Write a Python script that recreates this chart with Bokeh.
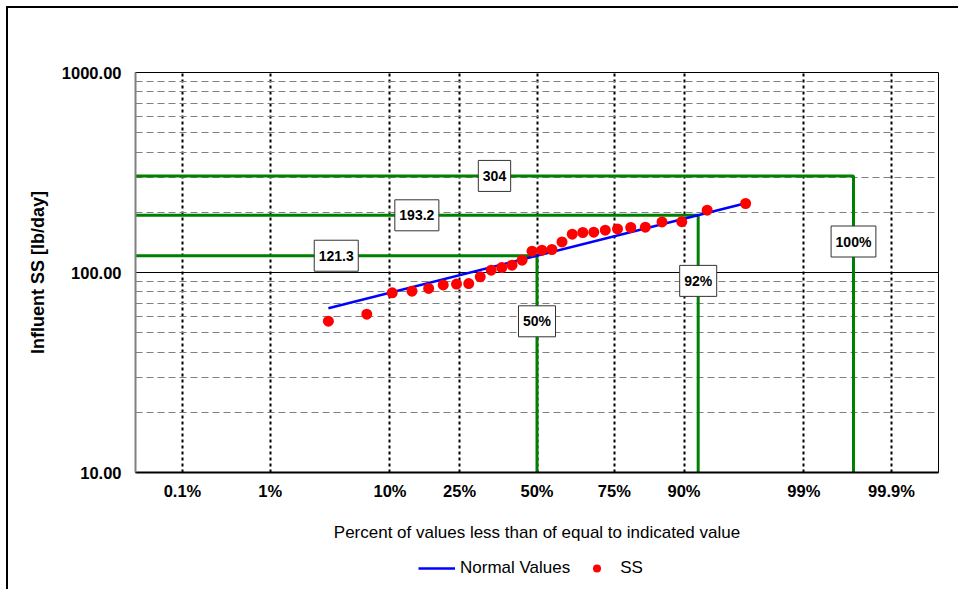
from statistics import NormalDist
from bokeh.plotting import figure
from bokeh.layouts import column
from bokeh.models import Range1d, FixedTicker, Legend, LegendItem, ColumnDataSource
from bokeh.core.properties import value
from bokeh.embed import file_html
from bokeh.resources import INLINE

# ---------------- data ----------------
ss_values = [57.1, 61.9, 79.1, 80.6, 83.2, 86.7, 87.5, 88.0, 95.1, 102.7,
             105.9, 108.8, 115.2, 127.8, 129.3, 130.3, 142.2, 155.5, 158.5, 159.0,
             162.7, 165.2, 167.9, 168.5, 179.1, 179.6, 204.8, 221.3]
normal_values = [66.3, 222.0]          # fitted (log-normal) line at first / last plotting position
tick_pcts = [0.1, 1, 10, 25, 50, 75, 90, 99, 99.9]
tick_labels = ["0.1%", "1%", "10%", "25%", "50%", "75%", "90%", "99%", "99.9%"]
ref_pcts = [50, 92, 99.71]
ref_pct_labels = ["50%", "92%", "100%"]
ref_values = [121.3, 193.2, 304]
y_ticks = [10, 100, 1000]
y_tick_labels = ["10.00", "100.00", "1000.00"]
y_minor = [20, 30, 40, 50, 60, 70, 80, 90, 200, 300, 400, 500, 600, 700, 800, 900]

nd = NormalDist()


def zval(pct):
    return nd.inv_cdf(pct / 100.0)


n = len(ss_values)
ss_z = [nd.inv_cdf((i + 1) / (n + 1)) for i in range(n)]
normal_z = [ss_z[0], ss_z[-1]]

X0, X1 = -3.5, 3.5
Y0, Y1 = 10, 1000

FONT = "Liberation Sans"

p = figure(width=950, height=536,
           x_range=Range1d(X0, X1), y_range=Range1d(Y0, Y1),
           y_axis_type="log", output_backend="svg", toolbar_location=None,
           min_border_left=127, min_border_right=20, min_border_top=64,
           min_border_bottom=72)
p.background_fill_color = "white"
p.border_fill_color = "white"
p.outline_line_color = "black"
p.outline_line_width = 1

# x axis
xt = [zval(v) for v in tick_pcts]
p.xaxis.ticker = FixedTicker(ticks=xt)
p.xaxis.major_label_overrides = {t: lab for t, lab in zip(xt, tick_labels)}
p.xaxis.axis_label = "Percent of values less than of equal to indicated value"
p.xaxis.axis_label_text_font = FONT
p.xaxis.axis_label_text_font_style = "normal"
p.xaxis.axis_label_text_font_size = "17px"
p.xaxis.axis_label_standoff = 20
p.xaxis.major_label_standoff = 9
p.xaxis.axis_line_color = "black"
p.xaxis.axis_line_width = 2

# y axis
p.yaxis.ticker = FixedTicker(ticks=y_ticks, minor_ticks=y_minor)
p.yaxis.major_label_overrides = {t: lab for t, lab in zip(y_ticks, y_tick_labels)}
p.yaxis.axis_label = "Influent SS [lb/day]"
p.yaxis.axis_label_text_font = FONT
p.yaxis.axis_label_text_font_style = "bold"
p.yaxis.axis_label_text_font_size = "18px"
p.yaxis.axis_label_standoff = 11
p.yaxis.major_label_standoff = 14
p.yaxis.axis_line_color = "#808080"
p.yaxis.axis_line_width = 2

for ax in (p.xaxis, p.yaxis):
    ax.major_label_text_font = FONT
    ax.major_label_text_font_style = "bold"
    ax.major_label_text_font_size = "16.5px"
    ax.major_label_text_color = "black"
    ax.axis_label_text_color = "black"
    ax.major_tick_line_color = None
    ax.minor_tick_line_color = None
    ax.major_tick_out = 0
    ax.major_tick_in = 0
    ax.minor_tick_out = 0
    ax.minor_tick_in = 0

# grids
p.xgrid.grid_line_color = "black"
p.xgrid.grid_line_width = 2
p.xgrid.grid_line_dash = "3 3"
p.ygrid.grid_line_color = "black"
p.ygrid.grid_line_width = 1
p.ygrid.minor_grid_line_color = "#808080"
p.ygrid.minor_grid_line_width = 1
p.ygrid.minor_grid_line_dash = "7 4"

# green reference lines
ref_z = [zval(v) for v in ref_pcts]
green_src = ColumnDataSource(dict(
    xs=[[X0, zr, zr] for zr in ref_z],
    ys=[[v, v, Y0] for v in ref_values],
))
p.multi_line(xs="xs", ys="ys", source=green_src, line_color="#008000", line_width=3)

# normal line and points
p.line(normal_z, normal_values, line_color="#0000FF", line_width=2.5)
p.scatter(ss_z, ss_values, marker="circle", size=11,
          fill_color="#FF0000", line_color=None)

# boxed labels (white box + bold text)
CHAR_W = {".": 0.278, "%": 0.889}
LBL_FS = 14


def text_w(s):
    return sum(CHAR_W.get(c, 0.556) for c in s) * LBL_FS


lx, ly, lt = [], [], []
for zr, v, lab in zip(ref_z, ref_values, ref_pct_labels):
    lx.append((X0 + zr) / 2); ly.append(v); lt.append(f"{v:g}")
    lx.append(zr); ly.append(v * 0.47); lt.append(lab)
lbl_src = ColumnDataSource(dict(x=lx, y=ly, text=lt, w=[text_w(t) + 9 for t in lt]))
p.rect(x="x", y="y", width="w", height=31, width_units="screen", height_units="screen",
       source=lbl_src, fill_color="white", line_color="#333333", line_width=1)
p.text(x="x", y="y", text="text", source=lbl_src, text_font=value(FONT),
       text_font_style="bold", text_font_size=f"{LBL_FS}px", text_color="black",
       text_align="center", text_baseline="middle")

# legend strip below the chart (key renderers lie outside this strip's ranges)
lg = figure(width=950, height=45, x_range=Range1d(0, 1), y_range=Range1d(0, 1),
            output_backend="svg", toolbar_location=None, min_border=0,
            x_axis_type=None, y_axis_type=None)
lg.outline_line_color = None
lg.xgrid.visible = False
lg.ygrid.visible = False
lg.background_fill_color = "white"
lg.border_fill_color = "white"
k_line = lg.line(normal_z, normal_values, line_color="#0000FF", line_width=2.5)
k_pts = lg.scatter(ss_z, ss_values, marker="circle", size=11,
                   fill_color="#FF0000", line_color=None)
legend = Legend(items=[LegendItem(label="Normal Values", renderers=[k_line]),
                       LegendItem(label="SS", renderers=[k_pts])],
                orientation="horizontal", location=(283, 11),
                border_line_color=None, background_fill_alpha=0,
                label_text_font=FONT, label_text_font_size="17px",
                label_text_color="black",
                glyph_width=37, glyph_height=20, label_standoff=5,
                spacing=8, padding=0, margin=0)
lg.add_layout(legend, "center")

layout = column(p, lg, spacing=0)
layout.styles = {"margin-left": "6px", "margin-top": "6px",
                 "border-left": "2px solid black", "border-top": "2px solid black"}

open("out.html", "w").write(file_html(layout, INLINE))
